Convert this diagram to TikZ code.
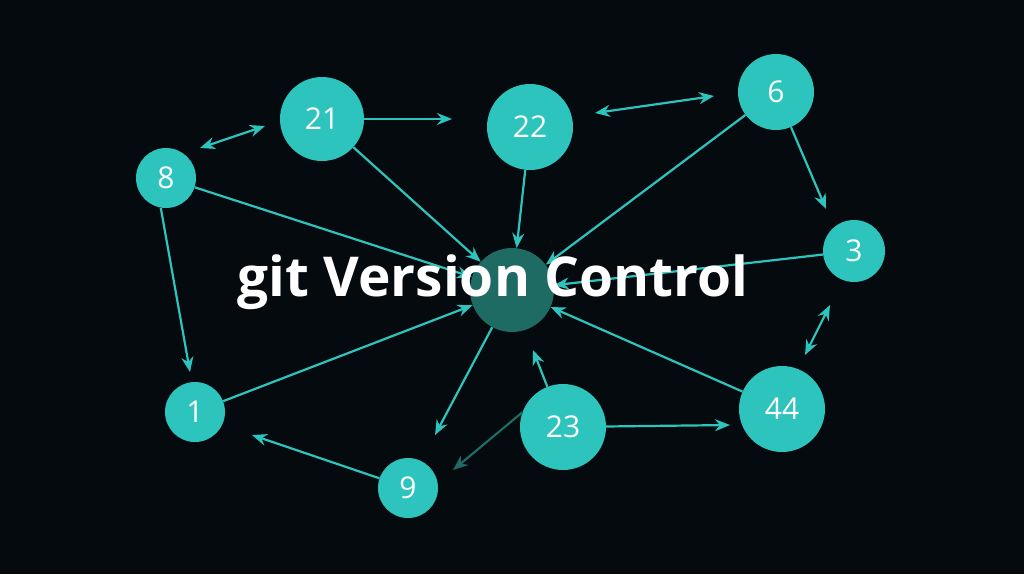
\documentclass[tikz,border=0pt]{standalone}
\usepackage{fontspec}
\setmainfont{Open Sans}
\usetikzlibrary{arrows.meta}
\definecolor{tealc}{HTML}{2EC4BE}
\definecolor{darkt}{HTML}{1E6B63}
\definecolor{bg}{HTML}{040A0D}
\tikzset{
 nd/.style={circle,fill=tealc,text=white,inner sep=0pt,font=\fontsize{30}{32}\selectfont},
 ar/.style={draw=tealc,line width=2.2pt,-{Stealth[length=15pt,width=12pt]}},
 dar/.style={draw=tealc,line width=2.2pt,{Stealth[length=15pt,width=12pt]}-{Stealth[length=15pt,width=12pt]}},
}
\begin{document}
\begin{tikzpicture}[x=1pt,y=-1pt]
\fill[bg] (0,0) rectangle (1024,574);
\useasboundingbox (0,0) rectangle (1024,574);
\node[nd,minimum size=84pt] (n21) at (322,119) {21};
\node[nd,minimum size=86pt] (n22) at (530,127) {22};
\node[nd,minimum size=76pt] (n6) at (776,92) {6};
\node[nd,minimum size=60pt] (n8) at (166,178) {8};
\node[nd,minimum size=62pt] (n3) at (854,251) {3};
\node[nd,minimum size=84pt,fill=darkt] (c) at (512,290) {};
\node[nd,minimum size=60pt] (n1) at (195,412) {1};
\node[nd,minimum size=86pt] (n23) at (563,427) {23};
\node[nd,minimum size=86pt] (n44) at (782,409) {44};
\node[nd,minimum size=60pt] (n9) at (408,488) {9};
\coordinate (a1) at (200,148); \coordinate (a2) at (265,126);
\coordinate (b1) at (452,119);
\coordinate (d1) at (595,113); \coordinate (d2) at (714,96);
\coordinate (e1) at (826,209);
\coordinate (f1) at (190,372);
\coordinate (g1) at (435,435);
\coordinate (h1) at (533,350);
\coordinate (i1) at (830,305); \coordinate (i2) at (805,355);
\coordinate (j1) at (730,425);
\coordinate (k1) at (252,435);
\coordinate (l1) at (453,470);
\draw[dar] (a1) -- (a2);
\draw[ar] (n21) -- (b1);
\draw[dar] (d1) -- (d2);
\draw[ar] (n6) -- (e1);
\draw[ar] (n8) -- (c);
\draw[ar] (n21) -- (c);
\draw[ar] (n22) -- (c);
\draw[ar] (n6) -- (c);
\draw[ar] (n3) -- (c);
\draw[ar] (n8.-100) -- (f1);
\draw[ar] (n1) -- (c);
\draw[ar] (c) -- (g1);
\draw[ar] (n23) -- (h1);
\draw[ar] (n44) -- (c);
\draw[dar] (i1) -- (i2);
\draw[ar] (n23) -- (j1);
\draw[ar] (n9) -- (k1);
\draw[ar,draw=darkt] (n23.160) -- (l1);
\node[text=white,font=\bfseries\fontsize{55}{60}\selectfont] (t) at (493,282) {git Version Control};
\end{tikzpicture}
\end{document}
